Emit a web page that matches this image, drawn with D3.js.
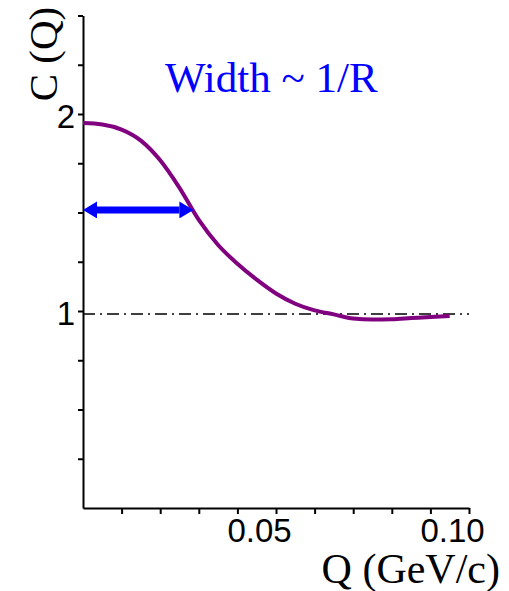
<!DOCTYPE html>
<html>
<head>
<meta charset="utf-8">
<script src="https://cdn.jsdelivr.net/npm/d3@7"></script>
<style>
  body { margin: 0; background: #fff; }
</style>
</head>
<body>
<div id="chart"></div>
<script>
// correlation function
var q_values = [0, 0.005, 0.010, 0.015, 0.020, 0.025, 0.030, 0.035, 0.040, 0.045,
                0.050, 0.055, 0.060, 0.065, 0.070, 0.075, 0.080, 0.085, 0.090, 0.095];
var c_values = [1.954, 1.947, 1.921, 1.865, 1.765, 1.625, 1.462, 1.335, 1.240, 1.159,
                1.089, 1.037, 1.003, 0.983, 0.962, 0.957, 0.958, 0.964, 0.970, 0.975];
var x_ticks = [0.01, 0.02, 0.03, 0.04, 0.05, 0.06, 0.07, 0.08, 0.09, 0.10];
var x_labels = [0.05, 0.10];
var y_ticks = [0.25, 0.5, 0.75, 1, 1.25, 1.5, 1.75, 2, 2.25, 2.5];
var y_labels = [1, 2];
var baseline = 0.985;            // dash-dot line at C = 1
var arrow_q = [0, 0.0286];
var arrow_c = 1.513;

var width = 509, height = 591;
var margin = { top: 15.5, right: 40, bottom: 83, left: 83 };
var serif = '"Liberation Serif", "Times New Roman", serif';
var sans = '"Liberation Sans", Arial, sans-serif';
var tick_font = 33;

var svg = d3.select('#chart').append('svg')
    .attr('width', width)
    .attr('height', height);

var x = d3.scaleLinear()
    .domain([0, 0.10])
    .range([margin.left, width - margin.right]);

var y = d3.scaleLinear()
    .domain([0, 2.5])
    .range([height - margin.bottom, margin.top]);

// dash-dot reference line
svg.append('line')
    .attr('x1', x(0)).attr('x2', x(0.10))
    .attr('y1', y(baseline)).attr('y2', y(baseline))
    .attr('stroke', '#000')
    .attr('stroke-width', 1.6)
    .attr('stroke-dasharray', '12,5,2,5');

// axes
var gx = svg.append('g')
    .attr('transform', `translate(0,${y(0)})`)
    .call(d3.axisBottom(x)
        .tickValues(x_ticks)
        .tickSize(6)
        .tickSizeOuter(0)
        .tickPadding(5)
        .tickFormat(d => x_labels.some(v => Math.abs(v - d) < 1e-9) ? d3.format('.2f')(d) : ''));
gx.selectAll('text').attr('dx', -17);

var gy = svg.append('g')
    .attr('transform', `translate(${x(0)},0)`)
    .call(d3.axisLeft(y)
        .tickValues(y_ticks)
        .tickSize(5)
        .tickSizeOuter(0)
        .tickPadding(3)
        .tickFormat(d => y_labels.includes(d) ? d3.format('d')(d) : ''));

[gx, gy].forEach(function (g) {
    g.selectAll('path, line').attr('stroke', '#000').attr('stroke-width', 2);
    g.selectAll('text')
        .attr('fill', '#000')
        .style('font', `${tick_font}px "Liberation Sans", Arial, sans-serif`);
});
gy.selectAll('text').attr('dy', '0.42em');

// curve
var line = d3.line()
    .x((d, i) => x(q_values[i]))
    .y(d => y(d))
    .curve(d3.curveMonotoneX);

svg.append('path')
    .datum(c_values)
    .attr('d', line)
    .attr('fill', 'none')
    .attr('stroke', '#800080')
    .attr('stroke-width', 4);

// double arrow showing the width
var head_len = 14, head_w = 17;
var defs = svg.append('defs');
defs.append('marker')
    .attr('id', 'head')
    .attr('viewBox', `0 0 ${head_len} ${head_w}`)
    .attr('preserveAspectRatio', 'none')
    .attr('refX', 0).attr('refY', head_w / 2)
    .attr('markerWidth', head_len).attr('markerHeight', head_w)
    .attr('markerUnits', 'userSpaceOnUse')
    .attr('orient', 'auto-start-reverse')
    .append('path')
    .attr('d', `M0,0 L${head_len},${head_w / 2} L0,${head_w} Z`)
    .attr('fill', '#0000ff');

svg.append('line')
    .attr('x1', x(arrow_q[0]) + head_len).attr('x2', x(arrow_q[1]) - head_len)
    .attr('y1', y(arrow_c)).attr('y2', y(arrow_c))
    .attr('stroke', '#0000ff')
    .attr('stroke-width', 7)
    .attr('marker-start', 'url(#head)')
    .attr('marker-end', 'url(#head)');

// texts
svg.append('text')
    .attr('x', 165).attr('y', 92)
    .attr('font-family', serif)
    .attr('font-size', 43)
    .attr('fill', '#0000ff')
    .text('Width ~ 1/R');

svg.append('text')
    .attr('transform', 'translate(57,54) rotate(-90)')
    .attr('text-anchor', 'middle')
    .attr('font-family', serif)
    .attr('font-size', 41)
    .text('C (Q)');

svg.append('text')
    .attr('x', 500).attr('y', 583)
    .attr('text-anchor', 'end')
    .attr('font-family', serif)
    .attr('font-size', 42)
    .text('Q (GeV/c)');
</script>
</body>
</html>
